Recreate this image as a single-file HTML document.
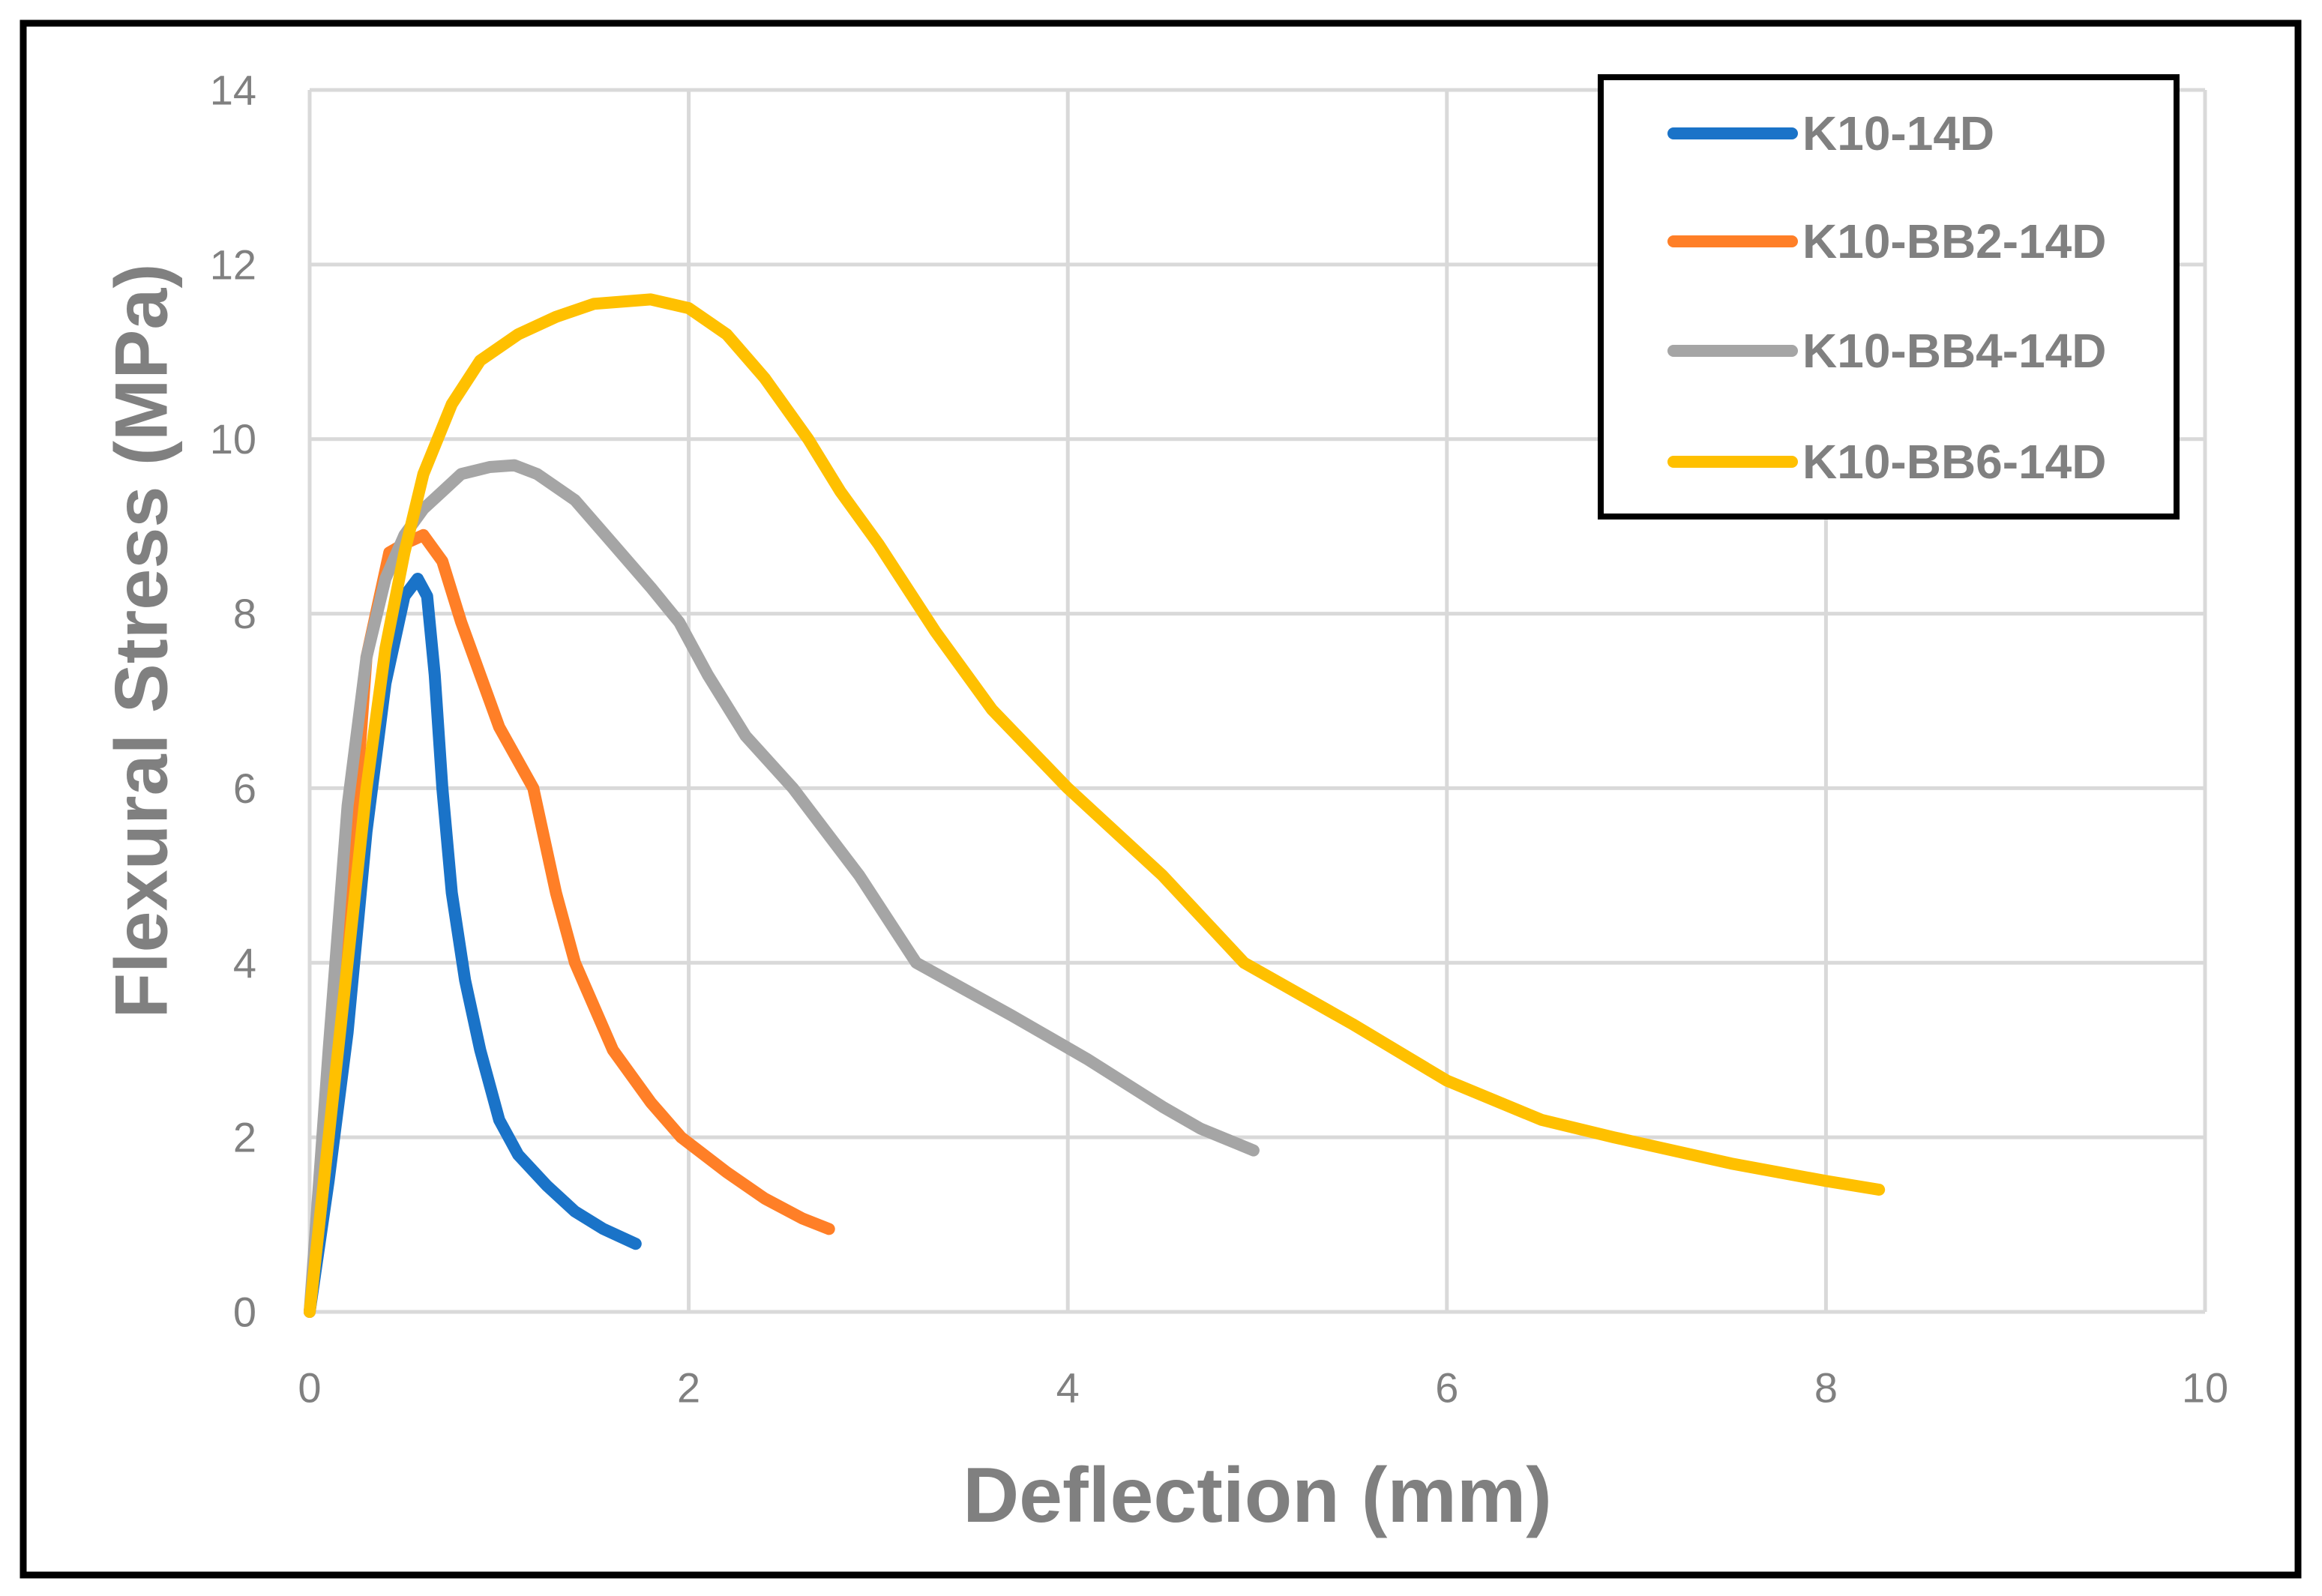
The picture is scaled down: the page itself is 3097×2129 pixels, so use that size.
<!DOCTYPE html>
<html><head><meta charset="utf-8"><style>html,body{margin:0;padding:0;background:#fff}svg{display:block}</style></head>
<body>
<svg id="chart" width="3097" height="2129" viewBox="0 0 3097 2129" xmlns="http://www.w3.org/2000/svg" font-family="'Liberation Sans', sans-serif">
<rect x="0" y="0" width="3097" height="2129" fill="#fff"/>
<g id="grid"></g>
<g id="ticks"></g>
<g id="series"></g>
<text x="188" y="855" transform="rotate(-90 188 855)" text-anchor="middle" dominant-baseline="central" font-size="99" font-weight="bold" fill="#808080">Flexural Stress (MPa)</text>
<text x="1677" y="1995" text-anchor="middle" dominant-baseline="central" font-size="104" font-weight="bold" fill="#808080">Deflection (mm)</text>
<rect x="2135" y="103" width="768" height="586" fill="#fff" stroke="#000" stroke-width="8"/>
<g id="legend"></g>
<rect x="31" y="31" width="3034" height="2070" fill="none" stroke="#000" stroke-width="9"/>
</svg>
<script>
const xTicks=[0,2,4,6,8,10];
const yTicks=[0,2,4,6,8,10,12,14];
const names=["K10-14D","K10-BB2-14D","K10-BB4-14D","K10-BB6-14D"];
const colors=["#1a73c8","#ff7f27","#a5a5a5","#ffc000"];
const k10X=[0,0.1,0.2,0.3,0.4,0.5,0.57,0.62,0.66,0.7,0.75,0.82,0.9,1.0,1.1,1.25,1.4,1.55,1.72];
const k10Y=[0,1.5,3.2,5.5,7.2,8.2,8.4,8.2,7.3,6.0,4.8,3.8,3.0,2.2,1.8,1.45,1.15,0.95,0.78];
const bb2X=[0,0.1,0.2,0.3,0.42,0.5,0.6,0.7,0.8,0.9,1.0,1.18,1.3,1.4,1.6,1.8,1.96,2.2,2.4,2.6,2.74];
const bb2Y=[0,2,4.5,7.5,8.7,8.8,8.9,8.6,7.9,7.3,6.7,6.0,4.8,4.0,3.0,2.4,2.0,1.6,1.3,1.07,0.95];
const bb4X=[0,0.1,0.2,0.3,0.4,0.5,0.6,0.7,0.8,0.95,1.08,1.2,1.4,1.6,1.8,1.95,2.1,2.3,2.55,2.9,3.2,3.7,4.1,4.5,4.7,4.98];
const bb4Y=[0,3,5.8,7.5,8.4,8.9,9.2,9.4,9.6,9.68,9.7,9.6,9.3,8.8,8.3,7.9,7.3,6.6,6.0,5.0,4.0,3.4,2.9,2.35,2.1,1.85];
const bb6X=[0,0.1,0.2,0.3,0.4,0.5,0.6,0.75,0.9,1.1,1.3,1.5,1.8,2.0,2.2,2.4,2.63,2.8,3.0,3.3,3.6,4.0,4.5,4.93,5.5,6.0,6.5,6.88,7.5,8.0,8.28];
const bb6Y=[0,2,4,6,7.6,8.7,9.6,10.4,10.9,11.2,11.4,11.55,11.6,11.5,11.2,10.7,10.0,9.4,8.8,7.8,6.9,6.0,5.0,4.0,3.3,2.65,2.2,2.0,1.7,1.5,1.4];
const seriesX=[k10X,bb2X,bb4X,bb6X];
const seriesY=[k10Y,bb2Y,bb4Y,bb6Y];
const NS="http://www.w3.org/2000/svg";
const X0=413,X1=2941,Y0=1750,Y1=120;
const sx=v=>X0+(X1-X0)*v/10;
const sy=v=>Y0-(Y0-Y1)*v/14;
const grid=document.getElementById('grid'),ticks=document.getElementById('ticks'),ser=document.getElementById('series'),leg=document.getElementById('legend');
function mk(tag,attrs,parent){const e=document.createElementNS(NS,tag);for(const k in attrs)e.setAttribute(k,attrs[k]);parent.appendChild(e);return e;}
xTicks.forEach(t=>{
  const l=mk('line',{x1:sx(t),x2:sx(t),y1:Y1,y2:Y0,stroke:'#d9d9d9','stroke-width':5},grid);
  
  
  const tx=mk('text',{x:sx(t),y:1851,'text-anchor':'middle','dominant-baseline':'central','font-size':56,fill:'#808080'},ticks);
  tx.textContent=t;
  
  
});
yTicks.forEach(t=>{
  const l=mk('line',{x1:X0,x2:X1,y1:sy(t),y2:sy(t),stroke:'#d9d9d9','stroke-width':5},grid);
  
  
  const tx=mk('text',{x:342,y:sy(t),'text-anchor':'end','dominant-baseline':'central','font-size':56,fill:'#808080'},ticks);
  tx.textContent=t;
  
  
});
seriesX.forEach((xs,i)=>{
  const pts=xs.map((x,j)=>sx(x).toFixed(1)+','+sy(seriesY[i][j]).toFixed(1)).join(' ');
  const p=mk('polyline',{points:pts,fill:'none',stroke:colors[i],'stroke-width':16,'stroke-linecap':'round','stroke-linejoin':'round'},ser);
  
  
});
const legY=[178,322,468,616];
names.forEach((n,i)=>{
  const l=mk('line',{x1:2232,x2:2390,y1:legY[i],y2:legY[i],stroke:colors[i],'stroke-width':16,'stroke-linecap':'round'},leg);
  
  
  const t=mk('text',{x:2404,y:legY[i],'dominant-baseline':'central','font-size':64,'font-weight':'bold',fill:'#808080'},leg);
  t.textContent=n;
  
  
});
</script>
</body></html>
